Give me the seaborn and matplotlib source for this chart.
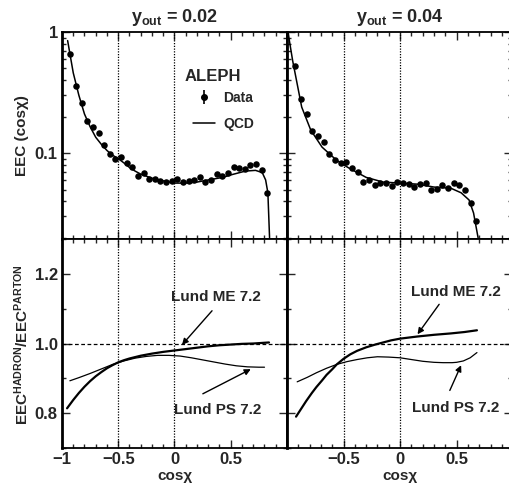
import numpy as np
import pandas as pd
import matplotlib.pyplot as plt
import matplotlib.ticker as mticker
import seaborn as sns

# ---- EEC data, y_out = 0.02 ----
x_dat_02 = [-0.925, -0.875, -0.825, -0.775, -0.725, -0.675, -0.625, -0.575, -0.525, -0.475,
            -0.425, -0.375, -0.325, -0.275, -0.225, -0.175, -0.125, -0.075, -0.025, 0.025,
            0.075, 0.125, 0.175, 0.225, 0.275, 0.325, 0.375, 0.425, 0.475, 0.525,
            0.575, 0.625, 0.675, 0.725, 0.775, 0.825]
eec_02 = [0.658, 0.358, 0.259, 0.184, 0.164, 0.146, 0.116, 0.098, 0.089, 0.093,
          0.083, 0.077, 0.065, 0.068, 0.061, 0.061, 0.0587, 0.0576, 0.0587, 0.061,
          0.0576, 0.0587, 0.0598, 0.0633, 0.0576, 0.0598, 0.067, 0.0645, 0.068, 0.077,
          0.0752, 0.0738, 0.0796, 0.081, 0.0724, 0.0467]

# ---- EEC data, y_out = 0.04 ----
x_dat_04 = [-0.925, -0.875, -0.825, -0.775, -0.725, -0.675, -0.625, -0.575, -0.525, -0.475,
            -0.425, -0.375, -0.325, -0.275, -0.225, -0.175, -0.125, -0.075, -0.025, 0.025,
            0.075, 0.125, 0.175, 0.225, 0.275, 0.325, 0.375, 0.425, 0.475, 0.525,
            0.575, 0.625, 0.675]
eec_04 = [0.524, 0.279, 0.210, 0.152, 0.138, 0.123, 0.098, 0.0875, 0.0827, 0.0843,
          0.0752, 0.0697, 0.0576, 0.0598, 0.0544, 0.0565, 0.0565, 0.0533, 0.0576, 0.0565,
          0.0554, 0.0524, 0.0554, 0.057, 0.0494, 0.0504, 0.0544, 0.0512, 0.0565, 0.0544,
          0.0494, 0.0386, 0.0274]

# ---- QCD curves ----
qcd_x_02 = [-0.95, -0.9, -0.85, -0.8, -0.75, -0.7, -0.65, -0.6, -0.55, -0.5, -0.45, -0.4,
            -0.35, -0.3, -0.2, -0.1, 0.0, 0.1, 0.2, 0.3, 0.43, 0.5, 0.63, 0.72, 0.78,
            0.81, 0.83, 0.845]
qcd_y_02 = [0.85, 0.46, 0.30, 0.21, 0.165, 0.135, 0.118, 0.105, 0.096, 0.090, 0.083, 0.076,
            0.071, 0.067, 0.062, 0.059, 0.0565, 0.0565, 0.0576, 0.060, 0.063, 0.066, 0.071,
            0.072, 0.069, 0.060, 0.047, 0.02]
qcd_x_04 = [-0.99, -0.98, -0.95, -0.925, -0.87, -0.79, -0.69, -0.56, -0.45, -0.3, -0.15,
            0.0, 0.15, 0.3, 0.45, 0.54, 0.61, 0.65, 0.69]
qcd_y_04 = [1.0, 0.86, 0.58, 0.44, 0.24, 0.155, 0.112, 0.087, 0.075, 0.063, 0.0576,
            0.0565, 0.0554, 0.0524, 0.0512, 0.047, 0.041, 0.032, 0.02]

# ---- hadron / parton ratio curves ----
me_x_02 = [-0.955, -0.9, -0.85, -0.8, -0.75, -0.7, -0.65, -0.6, -0.55, -0.5, -0.45, -0.4,
           -0.3, -0.2, -0.1, 0.0, 0.1, 0.2, 0.3, 0.4, 0.5, 0.6, 0.7, 0.84]
me_y_02 = [0.814, 0.838, 0.858, 0.876, 0.892, 0.906, 0.918, 0.929, 0.938, 0.946, 0.952, 0.957,
           0.965, 0.971, 0.976, 0.980, 0.984, 0.988, 0.992, 0.995, 0.997, 0.999, 1.000, 1.003]
ps_x_02 = [-0.93, -0.85, -0.75, -0.65, -0.55, -0.45, -0.35, -0.25, -0.15, -0.05, 0.05,
           0.15, 0.25, 0.35, 0.45, 0.55, 0.65, 0.75, 0.8]
ps_y_02 = [0.893, 0.902, 0.914, 0.927, 0.940, 0.950, 0.958, 0.963, 0.966, 0.966, 0.964,
           0.959, 0.953, 0.947, 0.941, 0.936, 0.933, 0.932, 0.932]
me_x_04 = [-0.92, -0.87, -0.83, -0.78, -0.74, -0.69, -0.65, -0.6, -0.56, -0.5, -0.44, -0.38,
           -0.3, -0.22, -0.15, -0.08, 0.0, 0.15, 0.3, 0.45, 0.57, 0.68]
me_y_04 = [0.79, 0.815, 0.835, 0.858, 0.875, 0.894, 0.91, 0.926, 0.94, 0.956, 0.969, 0.979,
           0.989, 0.997, 1.003, 1.009, 1.014, 1.02, 1.025, 1.029, 1.033, 1.038]
ps_x_04 = [-0.91, -0.82, -0.74, -0.65, -0.56, -0.47, -0.38, -0.29, -0.2, -0.1, 0.0, 0.1,
           0.2, 0.3, 0.38, 0.46, 0.5, 0.56, 0.62, 0.68]
ps_y_04 = [0.89, 0.903, 0.916, 0.929, 0.94, 0.948, 0.954, 0.959, 0.962, 0.961, 0.959, 0.954,
           0.949, 0.946, 0.945, 0.945, 0.946, 0.950, 0.959, 0.974]

sns.set_theme(style="ticks")
plt.rcParams["font.family"] = ["Liberation Sans", "DejaVu Sans"]
plt.rcParams["font.weight"] = "bold"
plt.rcParams["mathtext.default"] = "regular"
plt.rcParams["xtick.direction"] = "in"
plt.rcParams["ytick.direction"] = "in"

fig = plt.figure(figsize=(5.1, 4.9), dpi=100)
W = 225 / 510
ax_tl = fig.add_axes([62 / 510, 0.5122, W, 0.4224])
ax_tr = fig.add_axes([287 / 510, 0.5122, W, 0.4224])
ax_bl = fig.add_axes([62 / 510, 0.0857, W, 0.4265])
ax_br = fig.add_axes([287 / 510, 0.0857, W, 0.4265])

panels = [(ax_tl, x_dat_02, eec_02, qcd_x_02, qcd_y_02),
          (ax_tr, x_dat_04, eec_04, qcd_x_04, qcd_y_04)]
for ax, xd, yd, xq, yq in panels:
    sns.lineplot(x=xq, y=yq, ax=ax, color="black", lw=1.1, sort=False, estimator=None)
    sns.scatterplot(x=xd, y=yd, ax=ax, color="black", s=22, edgecolor="black",
                    linewidth=0, zorder=3)
    ax.set_yscale("log")
    ax.set_ylim(0.0195, 1.0)

ratios = [(ax_bl, me_x_02, me_y_02, ps_x_02, ps_y_02),
          (ax_br, me_x_04, me_y_04, ps_x_04, ps_y_04)]
for ax, xm, ym, xp, yp in ratios:
    sns.lineplot(x=xm, y=ym, ax=ax, color="black", lw=1.6, sort=False, estimator=None)
    sns.lineplot(x=xp, y=yp, ax=ax, color="black", lw=0.9, sort=False, estimator=None)
    ax.axhline(1.0, color="black", lw=0.9, ls=(0, (3, 2)))
    ax.set_ylim(0.7, 1.3)
    ax.yaxis.set_major_locator(mticker.FixedLocator([0.8, 1.0, 1.2]))
    ax.yaxis.set_minor_locator(mticker.MultipleLocator(0.1))

for ax in [ax_tl, ax_tr, ax_bl, ax_br]:
    ax.set_xlim(-1.0, 1.0)
    for xv in [-0.5, 0.0]:
        ax.axvline(xv, color="black", lw=0.9, ls=(0, (1, 1.2)))
    ax.xaxis.set_major_locator(mticker.FixedLocator([-1.0, -0.5, 0.0, 0.5, 1.0]))
    ax.xaxis.set_minor_locator(mticker.MultipleLocator(0.1))
    ax.tick_params(which="both", top=True, right=True, direction="in", width=1.0,
                   labelsize=12, pad=3)
    ax.tick_params(which="major", length=6)
    ax.tick_params(which="minor", length=3)
    for sp in ax.spines.values():
        sp.set_linewidth(1.3)
        sp.set_color("black")
    ax.spines["left"].set_linewidth(2.0)
    ax.set_ylabel("")
    ax.set_xlabel("")
    ax.set_facecolor("white")

ax_tr.set_xlim(-1.0, 0.99)
ax_br.set_xlim(-1.0, 0.99)

for ax in [ax_tl, ax_tr]:
    ax.yaxis.set_major_locator(mticker.FixedLocator([0.1, 1.0]))
    ax.yaxis.set_minor_locator(mticker.LogLocator(subs=np.arange(2, 10)))
    ax.yaxis.set_minor_formatter(mticker.NullFormatter())
    ax.tick_params(labelbottom=False)

ax_tl.yaxis.set_major_formatter(mticker.FixedFormatter(["0.1", "1"]))
ax_tr.tick_params(labelleft=False)
ax_br.tick_params(labelleft=False)

ax_bl.yaxis.set_major_formatter(mticker.FixedFormatter(["0.8", "1.0", "1.2"]))
ax_bl.xaxis.set_major_formatter(mticker.FixedFormatter(["\u22121", "\u22120.5", "0", "0.5", ""]))
ax_br.xaxis.set_major_formatter(mticker.FixedFormatter(["", "\u22120.5", "0", "0.5", ""]))

ax_tl.set_title("$y_{out}$ = 0.02", fontsize=13, fontweight="bold", pad=7)
ax_tr.set_title("$y_{out}$ = 0.04", fontsize=13, fontweight="bold", pad=7, x=0.5)
ax_bl.set_xlabel("cos\u03c7", fontsize=11, fontweight="bold", labelpad=1)
ax_br.set_xlabel("cos\u03c7", fontsize=11, fontweight="bold", labelpad=1)

fig.text(22 / 510, 0.724, "EEC (cos\u03c7)", rotation=90, ha="center", va="center",
         fontsize=11, fontweight="bold")
fig.text(22 / 510, 0.296, "EEC$^{HADRON}$/EEC$^{PARTON}$", rotation=90, ha="center",
         va="center", fontsize=11, fontweight="bold")

ax_tl.text(0.67, 0.787, "ALEPH", transform=ax_tl.transAxes, ha="center", va="center",
           fontsize=12, fontweight="bold")
h_dat = ax_tl.errorbar([np.nan], [np.nan], yerr=[0.0], fmt="o", color="black", ms=4,
                       capsize=0, elinewidth=1.2)
h_qcd, = ax_tl.plot([np.nan], [np.nan], color="black", lw=1.1)
ax_tl.legend([h_dat, h_qcd], ["Data", "QCD"], loc="upper left",
             bbox_to_anchor=(0.55, 0.75), frameon=False, fontsize=10,
             handlelength=1.6, handletextpad=0.6, labelspacing=0.9, borderpad=0)

arrow = dict(arrowstyle="-|>", color="black", lw=1.0, mutation_scale=9)
labels = [(ax_bl, "Lund ME 7.2", (0.37, 1.133), (0.35, 1.1), (0.05, 0.99)),
          (ax_bl, "Lund PS 7.2", (0.38, 0.809), (0.23, 0.852), (0.70, 0.93)),
          (ax_br, "Lund ME 7.2", (0.49, 1.148), (0.36, 1.119), (0.14, 1.02)),
          (ax_br, "Lund PS 7.2", (0.49, 0.814), (0.43, 0.858), (0.55, 0.945))]
for ax, txt, pos, tail, tip in labels:
    ax.text(pos[0], pos[1], txt, ha="center", va="center", fontsize=11, fontweight="bold")
    ax.annotate("", xy=tip, xytext=tail, arrowprops=arrow)

fig.savefig("out.png", dpi=100, facecolor="white")
